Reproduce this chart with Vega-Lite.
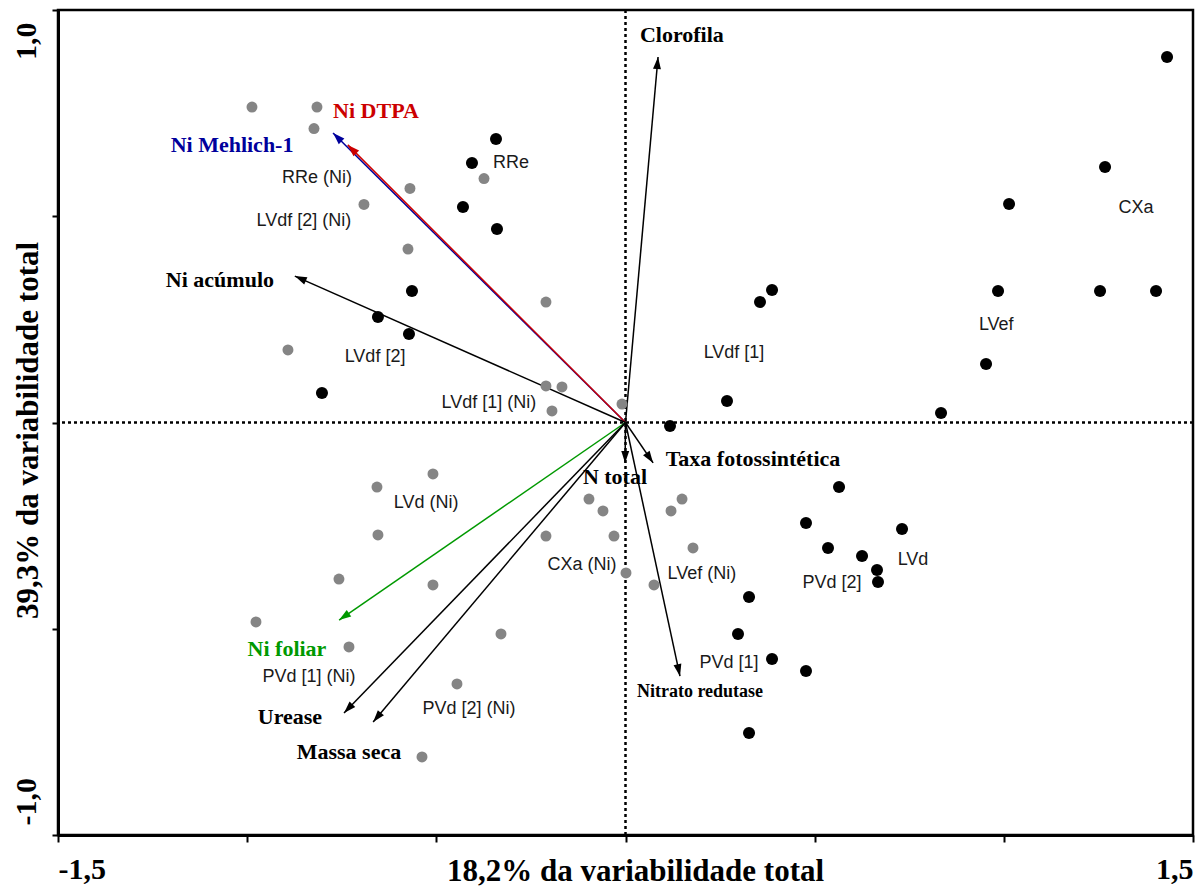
{
  "$schema": "https://vega.github.io/schema/vega-lite/v6.json",
  "width": 1135,
  "height": 825,
  "autosize": {"type": "none"},
  "padding": {"left": 58, "top": 10, "right": 2, "bottom": 53},
  "background": "white",
  "config": {"view": {"stroke": "black", "strokeWidth": 2.5}},
  "datasets": {
    "samples": [
      {"x": -0.9873, "y": 0.7648, "g": "com Ni"},
      {"x": -0.8155, "y": 0.7648, "g": "com Ni"},
      {"x": -0.8234, "y": 0.7127, "g": "com Ni"},
      {"x": -0.5697, "y": 0.5673, "g": "com Ni"},
      {"x": -0.374, "y": 0.5915, "g": "com Ni"},
      {"x": -0.6913, "y": 0.5285, "g": "com Ni"},
      {"x": -0.5749, "y": 0.4206, "g": "com Ni"},
      {"x": -0.2102, "y": 0.2921, "g": "com Ni"},
      {"x": -0.8922, "y": 0.1758, "g": "com Ni"},
      {"x": -0.2102, "y": 0.0885, "g": "com Ni"},
      {"x": -0.1679, "y": 0.0861, "g": "com Ni"},
      {"x": -0.1943, "y": 0.0279, "g": "com Ni"},
      {"x": -0.0093, "y": 0.0448, "g": "com Ni"},
      {"x": -0.5089, "y": -0.1248, "g": "com Ni"},
      {"x": -0.6569, "y": -0.1564, "g": "com Ni"},
      {"x": -0.6543, "y": -0.2727, "g": "com Ni"},
      {"x": -0.7574, "y": -0.3794, "g": "com Ni"},
      {"x": -0.5089, "y": -0.3939, "g": "com Ni"},
      {"x": -0.9767, "y": -0.4836, "g": "com Ni"},
      {"x": -0.7309, "y": -0.5442, "g": "com Ni"},
      {"x": -0.3291, "y": -0.5127, "g": "com Ni"},
      {"x": -0.4454, "y": -0.6339, "g": "com Ni"},
      {"x": -0.5379, "y": -0.8109, "g": "com Ni"},
      {"x": -0.2102, "y": -0.2752, "g": "com Ni"},
      {"x": -0.0965, "y": -0.1855, "g": "com Ni"},
      {"x": -0.0595, "y": -0.2145, "g": "com Ni"},
      {"x": -0.0304, "y": -0.2752, "g": "com Ni"},
      {"x": 0.0013, "y": -0.3648, "g": "com Ni"},
      {"x": 0.1494, "y": -0.1855, "g": "com Ni"},
      {"x": 0.1203, "y": -0.2145, "g": "com Ni"},
      {"x": 0.1784, "y": -0.3042, "g": "com Ni"},
      {"x": 0.0753, "y": -0.3939, "g": "com Ni"},
      {"x": -0.3423, "y": 0.6873, "g": "sem Ni"},
      {"x": -0.4058, "y": 0.6291, "g": "sem Ni"},
      {"x": -0.4296, "y": 0.5224, "g": "sem Ni"},
      {"x": -0.3397, "y": 0.4691, "g": "sem Ni"},
      {"x": -0.5644, "y": 0.3188, "g": "sem Ni"},
      {"x": -0.6543, "y": 0.2558, "g": "sem Ni"},
      {"x": -0.5723, "y": 0.2145, "g": "sem Ni"},
      {"x": -0.8023, "y": 0.0715, "g": "sem Ni"},
      {"x": 1.4314, "y": 0.8861, "g": "sem Ni"},
      {"x": 1.2675, "y": 0.6194, "g": "sem Ni"},
      {"x": 1.0138, "y": 0.5297, "g": "sem Ni"},
      {"x": 0.9847, "y": 0.3188, "g": "sem Ni"},
      {"x": 1.2543, "y": 0.3188, "g": "sem Ni"},
      {"x": 1.4023, "y": 0.3188, "g": "sem Ni"},
      {"x": 0.953, "y": 0.1418, "g": "sem Ni"},
      {"x": 0.834, "y": 0.023, "g": "sem Ni"},
      {"x": 0.3873, "y": 0.3212, "g": "sem Ni"},
      {"x": 0.3555, "y": 0.2921, "g": "sem Ni"},
      {"x": 0.2683, "y": 0.0521, "g": "sem Ni"},
      {"x": 0.1176, "y": -0.0085, "g": "sem Ni"},
      {"x": 0.5644, "y": -0.1564, "g": "sem Ni"},
      {"x": 0.4771, "y": -0.2436, "g": "sem Ni"},
      {"x": 0.7309, "y": -0.2582, "g": "sem Ni"},
      {"x": 0.5353, "y": -0.3042, "g": "sem Ni"},
      {"x": 0.6252, "y": -0.3236, "g": "sem Ni"},
      {"x": 0.6648, "y": -0.3576, "g": "sem Ni"},
      {"x": 0.6674, "y": -0.3867, "g": "sem Ni"},
      {"x": 0.3265, "y": -0.423, "g": "sem Ni"},
      {"x": 0.2974, "y": -0.5127, "g": "sem Ni"},
      {"x": 0.3873, "y": -0.5733, "g": "sem Ni"},
      {"x": 0.4771, "y": -0.6024, "g": "sem Ni"},
      {"x": 0.3265, "y": -0.7527, "g": "sem Ni"}
    ],
    "slabels": [
      {"label": "RRe (Ni)", "x": -0.8155, "y": 0.5927},
      {"label": "LVdf [2] (Ni)", "x": -0.85, "y": 0.4885},
      {"label": "RRe", "x": -0.3027, "y": 0.629},
      {"label": "LVdf [2]", "x": -0.662, "y": 0.1588},
      {"label": "LVdf [1] (Ni)", "x": -0.361, "y": 0.0473},
      {"label": "LVd (Ni)", "x": -0.527, "y": -0.195},
      {"label": "CXa (Ni)", "x": -0.115, "y": -0.345},
      {"label": "LVef (Ni)", "x": 0.202, "y": -0.367},
      {"label": "PVd [2]", "x": 0.546, "y": -0.389},
      {"label": "LVd", "x": 0.76, "y": -0.333},
      {"label": "PVd [1]", "x": 0.2736, "y": -0.582},
      {"label": "PVd [1] (Ni)", "x": -0.8367, "y": -0.617},
      {"label": "PVd [2] (Ni)", "x": -0.4137, "y": -0.6945},
      {"label": "LVdf [1]", "x": 0.2868, "y": 0.1685},
      {"label": "LVef", "x": 0.98, "y": 0.2364},
      {"label": "CXa", "x": 1.3495, "y": 0.52}
    ],
    "vars": [
      {"var": "Clorofila", "x": 0.086, "y": 0.886},
      {"var": "Ni Mehlich-1", "x": -0.773, "y": 0.702},
      {"var": "Ni DTPA", "x": -0.734, "y": 0.673},
      {"var": "Ni acúmulo", "x": -0.874, "y": 0.355},
      {"var": "Taxa fotossintética", "x": 0.073, "y": -0.098},
      {"var": "N total", "x": -0.001, "y": -0.098},
      {"var": "Nitrato redutase", "x": 0.144, "y": -0.615},
      {"var": "Ni foliar", "x": -0.757, "y": -0.479},
      {"var": "Urease", "x": -0.744, "y": -0.704},
      {"var": "Massa seca", "x": -0.667, "y": -0.726}
    ],
    "vlabels": [
      {"var": "Ni DTPA", "x": -0.6595, "y": 0.755},
      {"var": "Ni Mehlich-1", "x": -1.04, "y": 0.6727},
      {"var": "Ni acúmulo", "x": -1.072, "y": 0.3455},
      {"var": "Clorofila", "x": 0.149, "y": 0.939},
      {"var": "Taxa fotossintética", "x": 0.337, "y": -0.0885},
      {"var": "N total", "x": -0.0278, "y": -0.132},
      {"var": "Nitrato redutase", "x": 0.197, "y": -0.653},
      {"var": "Ni foliar", "x": -0.8948, "y": -0.549},
      {"var": "Urease", "x": -0.887, "y": -0.714},
      {"var": "Massa seca", "x": -0.731, "y": -0.799}
    ]
  },
  "layer": [
    {
      "data": {"name": "samples"},
      "mark": {"type": "point", "opacity": 0},
      "encoding": {
        "x": {
          "field": "x", "type": "quantitative", "title": "18,2% da variabilidade total",
          "scale": {"domain": [-1.5, 1.5], "nice": false, "zero": false},
          "axis": {
            "values": [-1.5, -1, -0.5, 0, 0.5, 1, 1.5],
            "labelExpr": "datum.value == -1.5 ? '-1,5' : (datum.value == 1.5 ? '1,5' : '')",
            "labelFlush": true, "labelOverlap": false,
            "labelFont": "Liberation Serif", "labelFontWeight": "bold", "labelFontSize": 30,
            "labelColor": "black", "labelBaseline": "alphabetic", "labelPadding": 36,
            "domainColor": "black", "domainWidth": 3,
            "tickColor": "black", "tickWidth": 2, "tickSize": 7,
            "grid": false,
            "titleFont": "Liberation Serif", "titleFontWeight": "bold", "titleFontSize": 31,
            "titleColor": "black", "titleBaseline": "alphabetic", "titleAlign": "center",
            "titleX": 577, "titleY": 45
          }
        },
        "y": {
          "field": "y", "type": "quantitative", "title": "39,3% da variabilidade total",
          "scale": {"domain": [-1, 1], "nice": false, "zero": false},
          "axis": {
            "values": [-1, -0.5, 0, 0.5, 1],
            "labelExpr": "datum.value == 1 ? '1,0' : (datum.value == -1 ? '-1,0' : '')",
            "labelOverlap": false,
            "labelAngle": 270,
            "labelAlign": {"condition": {"test": "datum.value > 0", "value": "right"}, "value": "left"},
            "labelOffset": {"condition": {"test": "datum.value > 0", "value": 12}, "value": -10},
            "labelBaseline": "alphabetic",
            "labelFont": "Liberation Serif", "labelFontWeight": "bold", "labelFontSize": 30,
            "labelColor": "black", "labelPadding": 17,
            "domainColor": "black", "domainWidth": 3,
            "tickColor": "black", "tickWidth": 2, "tickSize": 6,
            "grid": false,
            "titleFont": "Liberation Serif", "titleFontWeight": "bold", "titleFontSize": 31,
            "titleColor": "black", "titleBaseline": "alphabetic", "titleAlign": "center",
            "titleAngle": 270, "titleX": -21, "titleY": 420
          }
        }
      }
    },
    {
      "data": {"values": [{"v": 0}]},
      "mark": {"type": "rule", "color": "black", "strokeWidth": 2.5, "strokeDash": [3, 3]},
      "encoding": {
        "x": {"field": "v", "type": "quantitative", "title": "18,2% da variabilidade total"}
      }
    },
    {
      "data": {"values": [{"v": 0}]},
      "mark": {"type": "rule", "color": "black", "strokeWidth": 2.5, "strokeDash": [3, 3]},
      "encoding": {
        "y": {"field": "v", "type": "quantitative", "title": "39,3% da variabilidade total"}
      }
    },
    {
      "data": {"name": "vars"},
      "mark": {"type": "rule", "strokeWidth": 1.5},
      "encoding": {
        "x": {"field": "x", "type": "quantitative", "title": "18,2% da variabilidade total"},
        "y": {"field": "y", "type": "quantitative", "title": "39,3% da variabilidade total"},
        "x2": {"datum": 0},
        "y2": {"datum": 0},
        "color": {
          "field": "var", "type": "nominal", "legend": null,
          "scale": {
            "domain": ["Ni DTPA", "Ni Mehlich-1", "Ni foliar", "Ni acúmulo", "Clorofila", "Taxa fotossintética", "N total", "Nitrato redutase", "Urease", "Massa seca"],
            "range": ["#cc0000", "#00009c", "#009900", "black", "black", "black", "black", "black", "black", "black"]
          }
        }
      }
    },
    {
      "data": {"name": "vars"},
      "mark": {
        "type": "point", "filled": true, "opacity": 1, "size": 576, "strokeWidth": 0,
        "shape": "M0,0L-0.33,1L0.33,1Z",
        "angle": {"expr": "atan2(datum.x * 378.3, datum.y * 412.5) * 180 / PI"}
      },
      "encoding": {
        "x": {"field": "x", "type": "quantitative", "title": "18,2% da variabilidade total"},
        "y": {"field": "y", "type": "quantitative", "title": "39,3% da variabilidade total"},
        "color": {
          "field": "var", "type": "nominal", "legend": null,
          "scale": {
            "domain": ["Ni DTPA", "Ni Mehlich-1", "Ni foliar", "Ni acúmulo", "Clorofila", "Taxa fotossintética", "N total", "Nitrato redutase", "Urease", "Massa seca"],
            "range": ["#cc0000", "#00009c", "#009900", "black", "black", "black", "black", "black", "black", "black"]
          }
        }
      }
    },
    {
      "data": {"name": "samples"},
      "mark": {"type": "circle", "opacity": 1},
      "encoding": {
        "x": {"field": "x", "type": "quantitative", "title": "18,2% da variabilidade total"},
        "y": {"field": "y", "type": "quantitative", "title": "39,3% da variabilidade total"},
        "color": {"field": "g", "type": "nominal", "legend": null,
          "scale": {"domain": ["com Ni", "sem Ni"], "range": ["#858585", "#000000"]}},
        "size": {"field": "g", "type": "nominal", "legend": null,
          "scale": {"domain": ["com Ni", "sem Ni"], "range": [120, 145]}}
      }
    },
    {
      "data": {"name": "slabels"},
      "mark": {"type": "text", "font": "Liberation Sans", "fontSize": 18, "color": "#1a1a1a", "align": "center", "baseline": "middle"},
      "encoding": {
        "x": {"field": "x", "type": "quantitative", "title": "18,2% da variabilidade total"},
        "y": {"field": "y", "type": "quantitative", "title": "39,3% da variabilidade total"},
        "text": {"field": "label"}
      }
    },
    {
      "data": {"name": "vlabels"},
      "mark": {"type": "text", "font": "Liberation Serif", "fontWeight": "bold", "align": "center", "baseline": "middle"},
      "encoding": {
        "x": {"field": "x", "type": "quantitative", "title": "18,2% da variabilidade total"},
        "y": {"field": "y", "type": "quantitative", "title": "39,3% da variabilidade total"},
        "text": {"field": "var"},
        "size": {"condition": {"test": "datum['var'] == 'Nitrato redutase'", "value": 18}, "value": 22},
        "color": {
          "field": "var", "type": "nominal", "legend": null,
          "scale": {
            "domain": ["Ni DTPA", "Ni Mehlich-1", "Ni foliar", "Ni acúmulo", "Clorofila", "Taxa fotossintética", "N total", "Nitrato redutase", "Urease", "Massa seca"],
            "range": ["#cc0000", "#00009c", "#009900", "black", "black", "black", "black", "black", "black", "black"]
          }
        }
      }
    }
  ],
  "resolve": {"scale": {"color": "independent", "size": "independent"}}
}
